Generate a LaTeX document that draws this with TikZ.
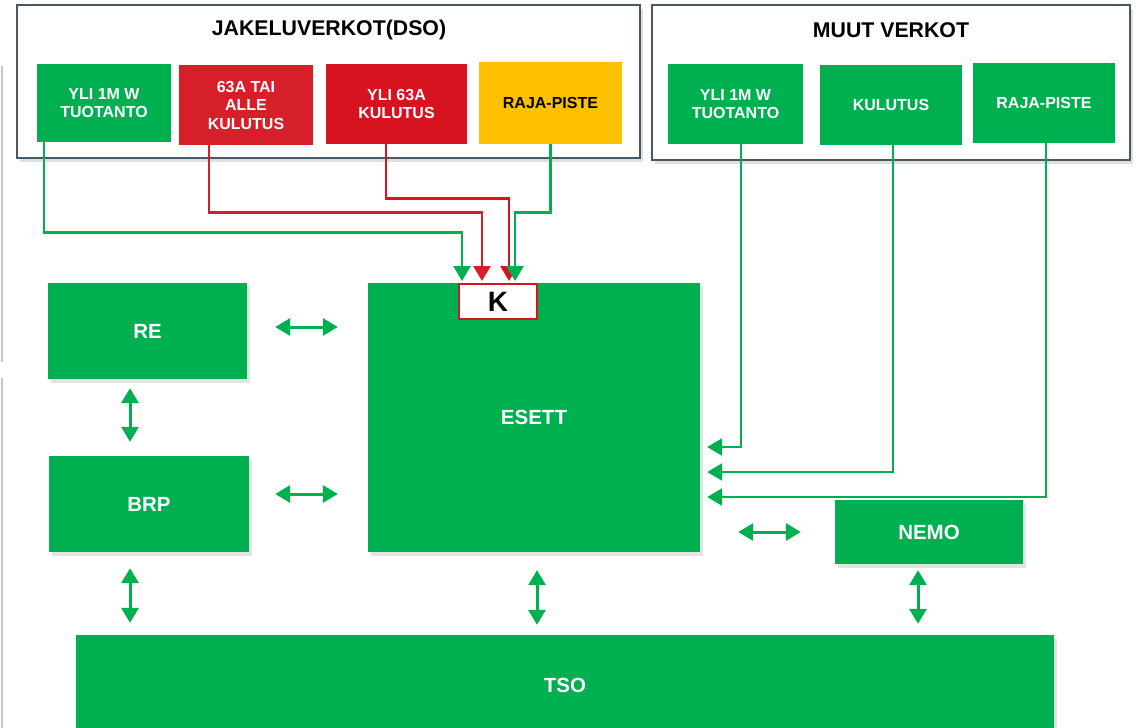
\documentclass[tikz,border=0pt]{standalone}
\usepackage{fontspec}
\setmainfont{Liberation Sans}
\usetikzlibrary{arrows.meta,shadows,calc}
\definecolor{gr}{HTML}{00AF50}
\definecolor{redA}{HTML}{D71F2A}
\definecolor{redB}{HTML}{D6131F}
\definecolor{yel}{HTML}{FFC000}
\definecolor{frm}{HTML}{4A5864}
\tikzset{
  frame/.style={draw=frm, line width=2pt, fill=white, drop shadow={shadow xshift=3pt, shadow yshift=-4pt, opacity=0.25}},
  smallbox/.style={inner sep=0pt, align=center, text=white, font=\fontsize{16}{18.5}\selectfont\bfseries},
  bigbox/.style={fill=gr, inner sep=0pt, align=center, text=white, font=\fontsize{20.5}{24}\selectfont\bfseries, drop shadow={shadow xshift=3pt, shadow yshift=-4pt, opacity=0.22}},
  title/.style={font=\fontsize{21.3}{24}\selectfont\bfseries, text=black},
  gline/.style={draw=gr, line width=2.6pt, -{Triangle[length=15pt,width=17pt]}},
  rline/.style={draw=redB, line width=2.6pt, -{Triangle[length=15pt,width=17pt]}},
  dbl/.style={draw=gr, line width=3pt, {Triangle[length=15pt,width=17pt]}-{Triangle[length=15pt,width=17pt]}}
}
\begin{document}
\begin{tikzpicture}[x=1pt,y=-1pt]
\useasboundingbox (0,0) rectangle (1136,728);
\fill[white] (0,0) rectangle (1136,728);
% faint edge lines
\draw[gray!45, line width=2pt] (1.5,66) -- (1.5,362);
\draw[gray!45, line width=2pt] (1.5,378) -- (1.5,728);
% frames
\node[frame, minimum width=623pt, minimum height=153pt, inner sep=0pt] (dso) at (328.5,81.5) {};
\node[frame, minimum width=478pt, minimum height=155pt, inner sep=0pt] (muut) at (891,82.5) {};
\node[title] (dsot) at (329,30) {JAKELUVERKOT(DSO)};
\node[title] (muutt) at (891,30) {MUUT VERKOT};
% DSO boxes
\node[smallbox, fill=gr, minimum width=134pt, minimum height=78pt] (d1) at (104,103) {YLI 1M W\\TUOTANTO};
\node[smallbox, fill=redA, minimum width=134pt, minimum height=80pt] (d2) at (246,105) {63A TAI\\ALLE\\KULUTUS};
\node[smallbox, fill=redB, minimum width=141pt, minimum height=80pt] (d3) at (396.5,104) {YLI 63A\\KULUTUS};
\node[smallbox, fill=yel, text=black, minimum width=143pt, minimum height=82pt] (d4) at (550.5,103) {RAJA-PISTE};
% MUUT boxes
\node[smallbox, fill=gr, minimum width=135pt, minimum height=80pt] (m1) at (735.5,104) {YLI 1M W\\TUOTANTO};
\node[smallbox, fill=gr, minimum width=142pt, minimum height=80pt] (m2) at (891,105) {KULUTUS};
\node[smallbox, fill=gr, minimum width=142pt, minimum height=80pt] (m3) at (1044,103) {RAJA-PISTE};
% main boxes
\node[bigbox, minimum width=199pt, minimum height=96pt] (re) at (147.5,331) {RE};
\node[bigbox, minimum width=200pt, minimum height=96pt] (brp) at (149,504) {BRP};
\node[bigbox, minimum width=332pt, minimum height=269pt] (esett) at (534,417.5) {ESETT};
\node[bigbox, minimum width=188pt, minimum height=64pt] (nemo) at (929,532) {NEMO};
\node[bigbox, minimum width=978pt, minimum height=100pt] (tso) at (565,685) {TSO};
\node[draw=redB, line width=2pt, fill=white, minimum width=78pt, minimum height=35pt, inner sep=0pt, font=\fontsize{28}{30}\selectfont\bfseries] (k) at (498,301.5) {K};
% DSO connectors
\draw[gline, shorten >=2pt] ([xshift=7pt]d1.south west) -- ++(0,90) -| ([xshift=4pt]k.north west);
\draw[rline, draw=redA, shorten >=2pt] ([xshift=30pt]d2.south west) -- ++(0,67) -| ([xshift=24pt]k.north west);
\draw[rline, shorten >=2pt] ([xshift=60pt]d3.south west) -- ++(0,54) -| ([xshift=51pt]k.north west);
\draw[gline, shorten >=2pt] (d4.south) -- ++(0,68) -| ([xshift=57pt]k.north west);
% MUUT connectors
\draw[gline, shorten >=7pt] ([xshift=5.5pt]m1.south) |- ([yshift=-29.5pt]esett.east);
\draw[gline, shorten >=7pt] ([xshift=2pt]m2.south) |- ([yshift=-54.5pt]esett.east);
\draw[gline, shorten >=7pt] ([xshift=2pt]m3.south) |- ([yshift=-79.5pt]esett.east);
% double arrows
\draw[dbl, shorten <=28pt, shorten >=30pt] ([yshift=4pt]re.east) -- ([yshift=4pt]re.east -| esett.west);
\draw[dbl, shorten <=26pt, shorten >=30pt] ([yshift=10pt]brp.east) -- ([yshift=10pt]brp.east -| esett.west);
\draw[dbl, shorten <=9pt, shorten >=14pt] ([xshift=-17.5pt]re.south) -- ([xshift=-17.5pt]re.south |- brp.north);
\draw[dbl, shorten <=16pt, shorten >=12pt] ([xshift=-19pt]brp.south) -- ([xshift=-19pt]brp.south |- tso.north);
\draw[dbl, shorten <=18pt, shorten >=10pt] ([xshift=3pt]esett.south) -- ([xshift=3pt]esett.south |- tso.north);
\draw[dbl, shorten <=38pt, shorten >=34pt] (esett.east |- nemo.west) -- (nemo.west);
\draw[dbl, shorten <=6pt, shorten >=11pt] ([xshift=-11pt]nemo.south) -- ([xshift=-11pt]nemo.south |- tso.north);
\end{tikzpicture}
\end{document}
